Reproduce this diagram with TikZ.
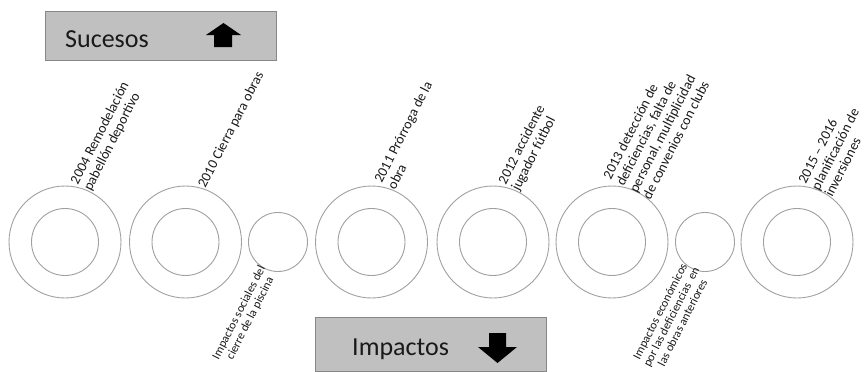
\documentclass[tikz,border=0pt]{standalone}
\usepackage{fontspec}
\setmainfont{Carlito}
\begin{document}
\begin{tikzpicture}[x=1pt,y=-1pt,
  ring/.style={circle,draw=ringgray,line width=0.9pt,inner sep=0pt},
  bigc/.style={ring,minimum size=112pt},
  innerc/.style={ring,minimum size=67pt},
  smallc/.style={ring,minimum size=59pt},
  banner/.style={draw=bordergray,fill=bannergray,line width=1pt,inner sep=0pt,anchor=north west},
  bannertext/.style={inner sep=0pt,anchor=base west,text=textgray,font=\fontsize{26}{30}\selectfont},
  uplabel/.style={rotate=63,anchor=south west,inner sep=0pt,align=left,text=textgray,
    font=\fontsize{14}{14.8}\selectfont},
  downlabel/.style={rotate=63,anchor=north east,inner sep=0pt,align=center,text=textgray,
    font=\fontsize{12}{12.6}\selectfont}]
\definecolor{ringgray}{RGB}{160,160,160}
\definecolor{bordergray}{RGB}{135,135,135}
\definecolor{bannergray}{RGB}{192,192,192}
\definecolor{textgray}{RGB}{25,25,25}
\useasboundingbox (0,0) rectangle (868,372);

% headers
\node[banner,minimum width=231pt,minimum height=49pt] (sucbox) at (45,11) {};
\node[bannertext] (suctext) at (65,47) {Sucesos};
\fill[black] (214,47) -- (214,35) -- (206,35) -- (223.5,23) -- (241,35) -- (232,35) -- (232,47) -- cycle;

\node[banner,minimum width=231pt,minimum height=54pt] (impbox) at (315,317) {};
\node[bannertext] (imptext) at (352,355) {Impactos};
\fill[black] (489,333) -- (506,333) -- (506,347) -- (517,347) -- (497.5,363) -- (478,347) -- (489,347) -- cycle;

% timeline rings
\node[bigc] (c1) at (65,242) {};
\node[innerc] (i1) at (c1.center) {};
\node[bigc] (c2) at (185.5,242) {};
\node[innerc] (i2) at (c2.center) {};
\node[smallc] (s1) at (278,242) {};
\node[bigc] (c3) at (371.5,242) {};
\node[innerc] (i3) at (c3.center) {};
\node[bigc] (c4) at (493,242) {};
\node[innerc] (i4) at (c4.center) {};
\node[bigc] (c5) at (612,242) {};
\node[innerc] (i5) at (c5.center) {};
\node[smallc] (s2) at (705,242) {};
\node[bigc] (c6) at (797,242) {};
\node[innerc] (i6) at (c6.center) {};

% events
\node[uplabel] (e1) at (c1.60) {2004 Remodelación\\pabellón deportivo};
\node[uplabel] (e2) at (c2.67) {2010 Cierra para obras};
\node[uplabel] (e3) at (c3.65) {2011 Prórroga de la\\obra};
\node[uplabel] (e4) at (c4.60) {2012 accidente\\jugador fútbol};
\node[uplabel] (e5) at (c5.47) {2013 detección de\\deficiencias, falta de\\personal, multiplicidad\\de convenios con clubs};
\node[uplabel] (e6) at (c6.51) {2015 – 2016\\planificación de\\inversiones};

% impacts
\node[downlabel] (m1) at (s1.-132) {Impactos sociales del\\cierre de la piscina};
\node[downlabel] (m2) at (s2.-143) {Impactos económicos\\por las deficiencias~ en\\las obras anteriores};
\end{tikzpicture}
\end{document}
